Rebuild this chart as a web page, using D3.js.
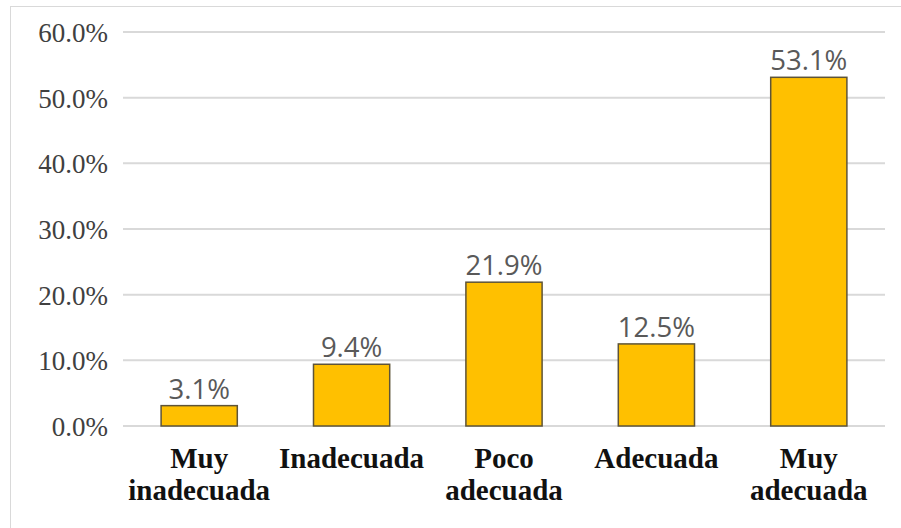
<!DOCTYPE html>
<html>
<head>
<meta charset="utf-8">
<script src="https://cdn.jsdelivr.net/npm/d3@7"></script>
<style>
  html, body { margin: 0; padding: 0; background: #fff; }
  svg { display: block; }
  .serif { font-family: "Liberation Serif", "Times New Roman", serif; }
  .sans { font-family: "Open Sans", "Liberation Sans", sans-serif; }
</style>
</head>
<body>
<svg id="chart" width="901" height="528"></svg>
<script>
// Categories (two-line labels) and their percentages
const categories = ["Muy inadecuada", "Inadecuada", "Poco adecuada", "Adecuada", "Muy adecuada"];
const categoryLines = [["Muy", "inadecuada"], ["Inadecuada"], ["Poco", "adecuada"], ["Adecuada"], ["Muy", "adecuada"]];
const values = [3.1, 9.4, 21.9, 12.5, 53.1];
const yTicks = [0, 10, 20, 30, 40, 50, 60];

const svg = d3.select("#chart");
const W = 901, H = 528;

// Outer chart frame
svg.append("rect")
  .attr("x", 10.5).attr("y", 6.5)
  .attr("width", W).attr("height", H)
  .attr("fill", "#fff").attr("stroke", "#d9d9d9").attr("stroke-width", 1);

const plot = { left: 123, right: 885, top: 32, bottom: 426 };

const x = d3.scaleBand()
  .domain(categories)
  .range([plot.left, plot.right])
  .paddingInner(0.5)
  .paddingOuter(0.25);

const y = d3.scaleLinear()
  .domain([0, 60])
  .range([plot.bottom, plot.top]);

// Horizontal gridlines
svg.append("g")
  .selectAll("line")
  .data(yTicks)
  .join("line")
  .attr("x1", plot.left).attr("x2", plot.right)
  .attr("y1", d => y(d)).attr("y2", d => y(d))
  .attr("stroke", "#d9d9d9").attr("stroke-width", 2);

// Y axis labels
const yAxis = d3.axisLeft(y)
  .tickValues(yTicks)
  .tickFormat(d => d.toFixed(1) + "%")
  .tickSize(0)
  .tickPadding(15);
const gy = svg.append("g")
  .attr("transform", `translate(${plot.left},0)`)
  .call(yAxis);
gy.attr("font-family", null).attr("font-size", null);
gy.select(".domain").remove();
gy.selectAll("text")
  .attr("class", "serif")
  .style("font-size", "27px")
  .attr("dy", "0.35em")
  .attr("fill", "#404040");

// Bars
svg.append("g")
  .selectAll("rect")
  .data(values)
  .join("rect")
  .attr("x", (d, i) => x(categories[i]))
  .attr("y", d => y(d))
  .attr("width", x.bandwidth())
  .attr("height", d => y(0) - y(d))
  .attr("fill", "#ffc000")
  .attr("stroke", "#5e5438")
  .attr("stroke-width", 1.5);

// Value labels
svg.append("g")
  .selectAll("text")
  .data(values)
  .join("text")
  .attr("class", "sans")
  .attr("x", (d, i) => x(categories[i]) + x.bandwidth() / 2)
  .attr("y", d => y(d) - 7)
  .attr("text-anchor", "middle")
  .style("font-size", "27.5px")
  .attr("fill", "#595959")
  .text(d => d.toFixed(1) + "%");

// Category labels
const cat = svg.append("g")
  .selectAll("text")
  .data(categoryLines)
  .join("text")
  .attr("class", "serif")
  .attr("x", (d, i) => x(categories[i]) + x.bandwidth() / 2)
  .attr("y", 468)
  .attr("text-anchor", "middle")
  .style("font-weight", "bold")
  .style("font-size", "29px")
  .attr("fill", "#111");
cat.selectAll("tspan")
  .data(d => d)
  .join("tspan")
  .attr("x", function () { return d3.select(this.parentNode).attr("x"); })
  .attr("dy", (d, i) => i === 0 ? 0 : 32)
  .text(d => d);
</script>
</body>
</html>
